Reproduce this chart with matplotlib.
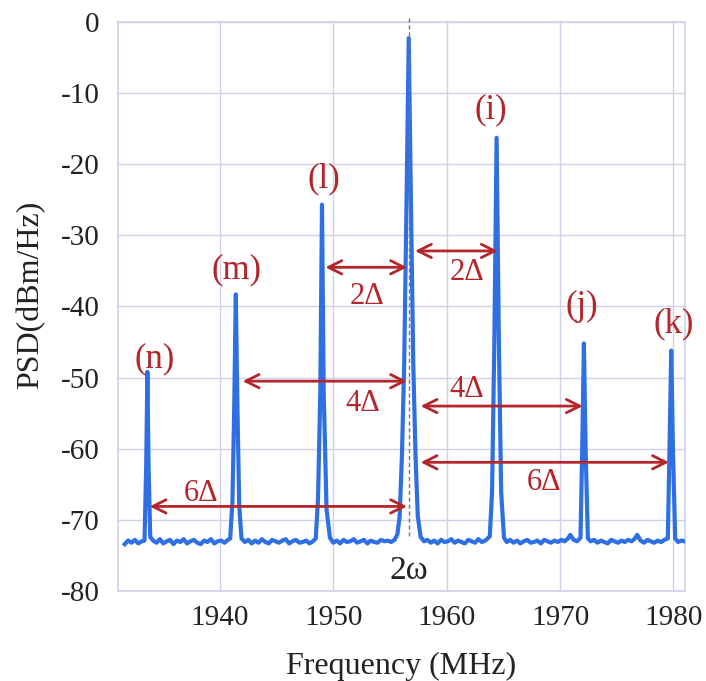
import matplotlib.pyplot as plt

plt.rcParams['font.family'] = ['Liberation Serif', 'DejaVu Serif']
plt.rcParams['axes.unicode_minus'] = False

# spectrum trace (MHz, dBm/Hz)
freq = [
    1931.6, 1931.9, 1932.2, 1932.5, 1932.8, 1933.1, 1933.35,
    1933.5, 1933.6, 1933.7, 1933.85,
    1934.1, 1934.4, 1934.7, 1935.0, 1935.3, 1935.6, 1935.9, 1936.2, 1936.5, 1936.8,
    1937.1, 1937.4, 1937.7, 1938.0, 1938.3, 1938.6, 1938.9, 1939.2, 1939.5, 1939.8,
    1940.1, 1940.4, 1940.7, 1940.9,
    1941.1, 1941.25, 1941.4, 1941.55, 1941.7, 1941.9,
    1942.2, 1942.5, 1942.8, 1943.1, 1943.4, 1943.7, 1944.0, 1944.3, 1944.6, 1944.9,
    1945.2, 1945.5, 1945.8, 1946.1, 1946.4, 1946.7, 1947.0, 1947.3, 1947.6, 1947.9,
    1948.2, 1948.45,
    1948.65, 1948.85, 1949.0, 1949.15, 1949.4, 1949.7,
    1950.0, 1950.3, 1950.6, 1950.9, 1951.2, 1951.5, 1951.8, 1952.1, 1952.4, 1952.7,
    1953.0, 1953.3, 1953.6, 1953.9, 1954.2, 1954.5, 1954.8, 1955.1, 1955.4, 1955.65,
    1955.85, 1956.05, 1956.25, 1956.45, 1956.65, 1956.85, 1957.05, 1957.25, 1957.45, 1957.7,
    1958.0, 1958.3, 1958.6, 1958.9, 1959.2, 1959.5, 1959.8, 1960.1, 1960.4, 1960.7,
    1961.0, 1961.3, 1961.6, 1961.9, 1962.2, 1962.5, 1962.8, 1963.1, 1963.4, 1963.8,
    1964.0, 1964.2, 1964.4, 1964.6, 1964.8, 1965.05,
    1965.3, 1965.6, 1965.9, 1966.2, 1966.5, 1966.8, 1967.1, 1967.4, 1967.7, 1968.0,
    1968.3, 1968.6, 1968.9, 1969.2, 1969.5, 1969.8, 1970.1, 1970.4, 1970.7, 1970.9,
    1971.2, 1971.5, 1971.8,
    1971.95, 1972.1, 1972.25, 1972.45,
    1972.7, 1973.0, 1973.3, 1973.6, 1973.9, 1974.2, 1974.5, 1974.8, 1975.1, 1975.4,
    1975.7, 1976.0, 1976.3, 1976.6, 1976.8, 1977.1, 1977.4, 1977.7, 1978.0, 1978.3,
    1978.6, 1978.9, 1979.2, 1979.5,
    1979.65, 1979.8, 1979.95, 1980.15,
    1980.4, 1980.7, 1981.0,
]
psd = [
    -73.4, -72.9, -73.2, -72.8, -73.3, -73.0, -72.9,
    -62.0, -49.2, -62.0, -72.4,
    -72.9, -73.2, -72.7, -73.3, -73.0, -72.8, -73.4, -72.9, -73.1, -72.7,
    -73.3, -73.0, -72.8, -73.2, -73.4, -72.9, -73.1, -72.7, -73.3, -73.0,
    -72.9, -73.2, -72.8, -72.6,
    -67.5, -55.0, -38.3, -55.0, -68.0, -72.6,
    -73.1, -72.8, -73.3, -72.9, -73.2, -72.7, -73.1, -73.3, -72.8, -73.0,
    -73.2, -72.9, -72.7, -73.3, -73.0, -72.8, -73.2, -73.1, -72.9, -73.3,
    -73.0, -72.6,
    -67.0, -52.0, -25.7, -52.0, -68.5, -72.5,
    -73.2, -72.9, -73.3, -72.8, -73.1, -73.0, -72.7, -73.2, -73.0, -72.8,
    -73.3, -72.9, -73.1, -73.2, -72.8, -73.0, -72.9, -73.1, -72.8, -72.0,
    -69.5, -61.0, -48.0, -26.0, -2.3, -26.0, -48.0, -61.0, -69.5, -72.4,
    -73.0, -72.8, -73.2, -72.9, -73.3, -72.8, -73.1, -73.0, -72.7, -73.2,
    -72.9, -73.1, -73.3, -72.8, -73.0, -73.2, -72.7, -73.1, -72.9, -72.3,
    -66.0, -45.0, -16.3, -45.0, -66.0, -72.5,
    -73.1, -72.8, -73.2, -72.9, -73.3, -73.0, -72.8, -73.2, -73.1, -72.9,
    -73.3, -72.8, -73.0, -73.2, -72.9, -73.1, -72.8, -73.0, -72.6, -72.1,
    -72.8, -73.0, -72.5,
    -60.0, -45.2, -60.0, -72.6,
    -73.0, -72.8, -73.2, -72.9, -73.1, -73.3, -72.8, -73.0, -73.2, -72.9,
    -73.1, -72.8, -73.0, -72.6, -72.1, -72.9, -73.2, -72.8, -73.0, -73.2,
    -72.9, -73.1, -72.8, -72.6,
    -60.0, -46.2, -60.0, -72.6,
    -73.1, -72.9, -73.0,
]

# peak labels
peak_names = ['(n)', '(m)', '(l)', '(i)', '(j)', '(k)']
label_x = [1934.2, 1941.5, 1949.2, 1963.9, 1971.9, 1980.0]
label_y = [-47.3, -34.8, -22.0, -12.4, -40.0, -42.4]

# spacing arrows: (x_start, x_end, y, text, text_x, text_y)
arrows = [
    (1949.3, 1956.5, -34.5, '2\u0394', 1953.0, -38.6),
    (1957.2, 1964.5, -32.2, '2\u0394', 1961.8, -35.2),
    (1942.0, 1956.5, -50.5, '4\u0394', 1952.6, -53.6),
    (1957.7, 1972.0, -54.0, '4\u0394', 1961.8, -51.6),
    (1933.8, 1956.5, -68.1, '6\u0394', 1938.3, -66.3),
    (1957.7, 1979.6, -61.9, '6\u0394', 1968.6, -64.7),
]

center_f = 1956.65
red = '#b3262c'
grid_c = '#cfd0ea'

fig = plt.figure(figsize=(7.06, 6.81), dpi=100)
ax = fig.add_axes([0.167, 0.132, 0.803, 0.836])

ax.plot(freq, psd, color='#2f6fe4', lw=3.0, zorder=3)
ax.plot([center_f, center_f], [0.5, -72.3], color='#777777', lw=1.0,
        ls=(0, (3, 2)), zorder=4, clip_on=False)

for name, x, y in zip(peak_names, label_x, label_y):
    ax.text(x, y, name, color=red, fontsize=25, ha='center', va='center', zorder=5)

for x0, x1, y, txt, tx, ty in arrows:
    ax.annotate('', xy=(x0, y), xytext=(x1, y),
                arrowprops=dict(arrowstyle='<->', color=red, lw=2.0,
                                mutation_scale=24, shrinkA=0, shrinkB=0),
                zorder=5)
    ax.text(tx, ty, txt, color=red, fontsize=22, ha='center', va='center', zorder=5)

ax.text(center_f, -77.2, '2\u03c9', fontsize=24, ha='center', va='center', color='#222222')

ax.set_xlim(1931, 1981)
ax.set_ylim(-80, 0)
ax.set_xticks([1940, 1950, 1960, 1970, 1980])
ax.set_yticks(range(-80, 1, 10))
ax.grid(True, color=grid_c, lw=1.0)
ax.set_axisbelow(True)
for s in ax.spines.values():
    s.set_color(grid_c)
    s.set_linewidth(1.2)
ax.tick_params(length=0, labelsize=21, colors='#222222')
ax.tick_params(axis='y', pad=13)
ax.tick_params(axis='x', pad=10)
ax.set_xlabel('Frequency (MHz)', fontsize=23, labelpad=15, color='#222222')
ax.set_ylabel('PSD(dBm/Hz)', fontsize=23, labelpad=6, color='#222222')
ax.yaxis.set_label_coords(-0.128, 0.52)

fig.savefig('out.png', dpi=100)
